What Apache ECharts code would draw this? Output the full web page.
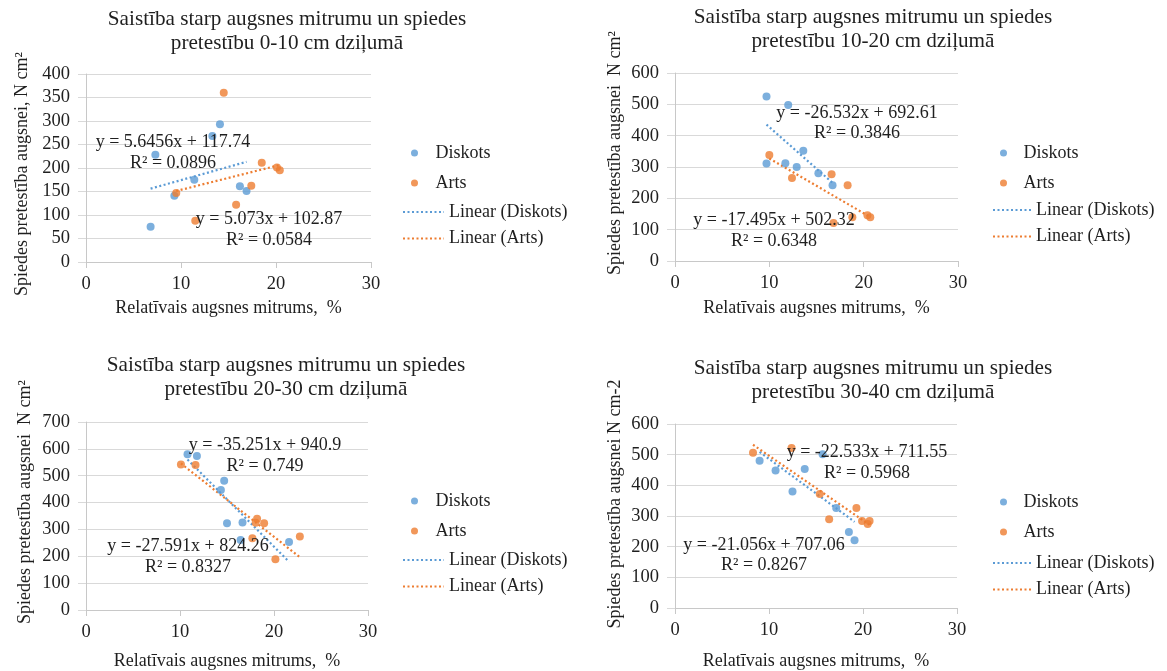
<!DOCTYPE html>
<html><head><meta charset="utf-8">
<script src="https://cdn.jsdelivr.net/npm/echarts@6/dist/echarts.min.js"></script>
<style>html,body{margin:0;padding:0;background:#fff}#c{width:1167px;height:671px}</style>
</head><body><div id="c"></div>
<script>
// ---------------- DATA ----------------
const seriesNames = ['Diskots', 'Arts'];
const trendNames = ['Linear (Diskots)', 'Linear (Arts)'];
const titles = [
  'Saistība starp augsnes mitrumu un spiedes\npretestību 0-10 cm dziļumā',
  'Saistība starp augsnes mitrumu un spiedes\npretestību 10-20 cm dziļumā',
  'Saistība starp augsnes mitrumu un spiedes\npretestību 20-30 cm dziļumā',
  'Saistība starp augsnes mitrumu un spiedes\npretestību 30-40 cm dziļumā'
];
const yAxisNames = [
  'Spiedes pretestība augsnei, N cm²',
  'Spiedes pretestība augsnei  N cm²',
  'Spiedes pretestība augsnei  N cm²',
  'Spiedes pretestība augsnei N cm-2'
];
const xAxisName = 'Relatīvais augsnes mitrums,  %';
const xMax = 30, xInterval = 10;
const yMax = [400, 600, 700, 600];
const yInterval = [50, 100, 100, 100];

// 0-10 cm
const diskots1X = [6.8, 7.3, 9.3, 11.4, 13.3, 14.1, 16.2, 16.9];
const diskots1Y = [75, 228, 141, 175, 268, 293, 161, 151];
const arts1X = [9.5, 11.5, 14.5, 15.8, 17.4, 18.5, 20.1, 20.4];
const arts1Y = [147, 88, 360, 122, 162, 211, 201, 195];
// 10-20 cm
const diskots2X = [9.7, 12.0, 9.7, 11.7, 12.9, 13.6, 15.2, 16.7];
const diskots2Y = [525, 498, 311, 312, 300, 352, 280, 242];
const arts2X = [10.0, 12.4, 16.6, 18.3, 16.8, 18.8, 20.4, 20.7];
const arts2Y = [338, 265, 277, 242, 121, 140, 146, 140];
// 20-30 cm
const diskots3X = [10.8, 11.8, 14.7, 14.35, 15.0, 16.65, 16.45, 21.6];
const diskots3Y = [580, 573, 481, 447, 323, 326, 261, 253];
const arts3X = [10.1, 11.65, 18.2, 18.05, 18.95, 17.7, 22.75, 20.15];
const arts3Y = [542, 540, 340, 325, 323, 267, 274, 189];
// 30-40 cm
const diskots4X = [9.0, 10.7, 12.5, 13.8, 15.7, 17.15, 18.5, 19.1];
const diskots4Y = [480, 448, 380, 453, 501, 326, 248, 221];
const arts4X = [8.3, 12.4, 15.4, 16.4, 19.3, 19.9, 20.5, 20.7];
const arts4Y = [506, 522, 372, 289, 326, 284, 274, 284];

// trendline coefficients: [slope, intercept, R²]
const trendDiskots = [[5.6456, 117.74, 0.0896], [-26.532, 692.61, 0.3846], [-35.251, 940.9, 0.749], [-22.533, 711.55, 0.5968]];
const trendArts = [[5.073, 102.87, 0.0584], [-17.495, 502.32, 0.6348], [-27.591, 824.26, 0.8327], [-21.056, 707.06, 0.8267]];

// ---------------- LAYOUT ----------------
const FONT = '"Liberation Serif", "Times New Roman", Times, serif';
const TXT = '#1f1f1f';
const BLUE = '#5B9BD5', ORANGE = '#ED7D31';
const grids = [
  {left: 86, top: 74, width: 285, height: 188},
  {left: 675, top: 73, width: 283, height: 188},
  {left: 86, top: 422, width: 282, height: 188},
  {left: 675, top: 424, width: 282, height: 188}
];
const titlePos = [[287, 7], [873, 5], [286, 353], [873, 356]];
const yNameGap = [55, 51, 52, 51];
const yNamePad = [[0, 12, 0, 0], [0, 0, 0, 28], [0, 0, 0, 28], [0, 0, 0, 24]];
const xNameGap = [37, 38, 42, 44];
const legDots = [[411, 144], [1000, 144], [411, 492], [1000, 493]];
const legDotsW = [32, 30, 32, 30];
const legLines = [[402, 203], [992, 201], [402, 551], [992, 554]];
const legLinesW = [41, 38, 41, 38];
const labelDiskots = [[173, 153], [857, 123.5], [265, 456], [867, 463]];
const labelArts = [[269, 230], [774, 231], [188, 557], [764, 555.5]];

// ---------------- BUILD ----------------
const dX = [diskots1X, diskots2X, diskots3X, diskots4X];
const dY = [diskots1Y, diskots2Y, diskots3Y, diskots4Y];
const aX = [arts1X, arts2X, arts3X, arts4X];
const aY = [arts1Y, arts2Y, arts3Y, arts4Y];

function pairs(xs, ys) { return xs.map((x, i) => [x, ys[i]]); }
function trend(xs, c) {
  const lo = Math.min(...xs), hi = Math.max(...xs);
  return [[lo, c[0] * lo + c[1]], [hi, c[0] * hi + c[1]]];
}
function eqText(c) { return 'y = ' + c[0] + 'x + ' + c[1] + '\nR² = ' + c[2]; }

const option = {
  backgroundColor: '#fff',
  animation: false,
  textStyle: {fontFamily: FONT, color: TXT},
  title: [], grid: [], xAxis: [], yAxis: [], series: [], legend: [], graphic: []
};

for (let p = 0; p < 4; p++) {
  option.title.push({
    text: titles[p], left: titlePos[p][0], top: titlePos[p][1], textAlign: 'center', padding: 0,
    textStyle: {fontFamily: FONT, fontSize: 21.2, fontWeight: 'normal', color: TXT, lineHeight: 24}
  });
  option.grid.push(Object.assign({containLabel: false}, grids[p]));
  option.xAxis.push({
    type: 'value', gridIndex: p, min: 0, max: xMax, interval: xInterval,
    name: xAxisName, nameLocation: 'middle', nameGap: xNameGap[p],
    nameTextStyle: {fontFamily: FONT, fontSize: 18, color: TXT},
    axisLine: {show: true, lineStyle: {color: '#c8c8c8', width: 1}},
    axisTick: {show: true, length: 6, lineStyle: {color: '#c8c8c8'}},
    axisLabel: {fontFamily: FONT, fontSize: 18.5, color: TXT, margin: 13},
    splitLine: {show: false}
  });
  option.yAxis.push({
    type: 'value', gridIndex: p, min: 0, max: yMax[p], interval: yInterval[p],
    name: yAxisNames[p], nameLocation: 'middle', nameRotate: 90, nameGap: yNameGap[p],
    nameTextStyle: {fontFamily: FONT, fontSize: 18, color: TXT, padding: yNamePad[p]},
    axisLine: {show: true, lineStyle: {color: '#c8c8c8', width: 1}},
    axisTick: {show: true, length: 8, lineStyle: {color: '#d9d9d9'}},
    axisLabel: {fontFamily: FONT, fontSize: 18.5, color: TXT, margin: 16},
    splitLine: {show: true, lineStyle: {color: '#d9d9d9', width: 1}}
  });
  option.series.push(
    {name: seriesNames[0], type: 'scatter', xAxisIndex: p, yAxisIndex: p, symbol: 'circle', symbolSize: 8,
     itemStyle: {color: BLUE}, data: pairs(dX[p], dY[p]), z: 3},
    {name: seriesNames[1], type: 'scatter', xAxisIndex: p, yAxisIndex: p, symbol: 'circle', symbolSize: 8,
     itemStyle: {color: ORANGE}, data: pairs(aX[p], aY[p]), z: 3},
    {name: trendNames[0], type: 'line', xAxisIndex: p, yAxisIndex: p, symbol: 'none', silent: true,
     lineStyle: {color: BLUE, width: 2.2, type: [2, 2.5]}, itemStyle: {color: BLUE}, data: trend(dX[p], trendDiskots[p]), z: 2},
    {name: trendNames[1], type: 'line', xAxisIndex: p, yAxisIndex: p, symbol: 'none', silent: true,
     lineStyle: {color: ORANGE, width: 2.2, type: [2, 2.5]}, itemStyle: {color: ORANGE}, data: trend(aX[p], trendArts[p]), z: 2}
  );
  option.legend.push({
    orient: 'vertical', left: legDots[p][0], top: legDots[p][1], padding: 0,
    itemWidth: legDotsW[p], itemHeight: 7, itemGap: 12, selectedMode: false,
    textStyle: {fontFamily: FONT, fontSize: 18, color: TXT, lineHeight: 18},
    data: [{name: seriesNames[0], icon: 'circle'}, {name: seriesNames[1], icon: 'circle'}]
  });
  option.legend.push({
    orient: 'vertical', left: legLines[p][0], top: legLines[p][1], padding: 0,
    itemWidth: legLinesW[p], itemHeight: 7, itemGap: 8.5, selectedMode: false,
    itemStyle: {opacity: 0},
    textStyle: {fontFamily: FONT, fontSize: 18, color: TXT, lineHeight: 18},
    data: [trendNames[0], trendNames[1]]
  });
  [[trendDiskots[p], labelDiskots[p]], [trendArts[p], labelArts[p]]].forEach(([c, pos]) => {
    option.graphic.push({
      type: 'text', x: pos[0], y: pos[1], z: 100,
      style: {text: eqText(c), fontFamily: FONT, fontSize: 18, fill: TXT, lineHeight: 20.5,
              align: 'center', verticalAlign: 'middle', textAlign: 'center', textVerticalAlign: 'middle'}
    });
  });
}

const chart = echarts.init(document.getElementById('c'), null, {renderer: 'canvas'});
chart.setOption(option);
</script>
</body></html>
